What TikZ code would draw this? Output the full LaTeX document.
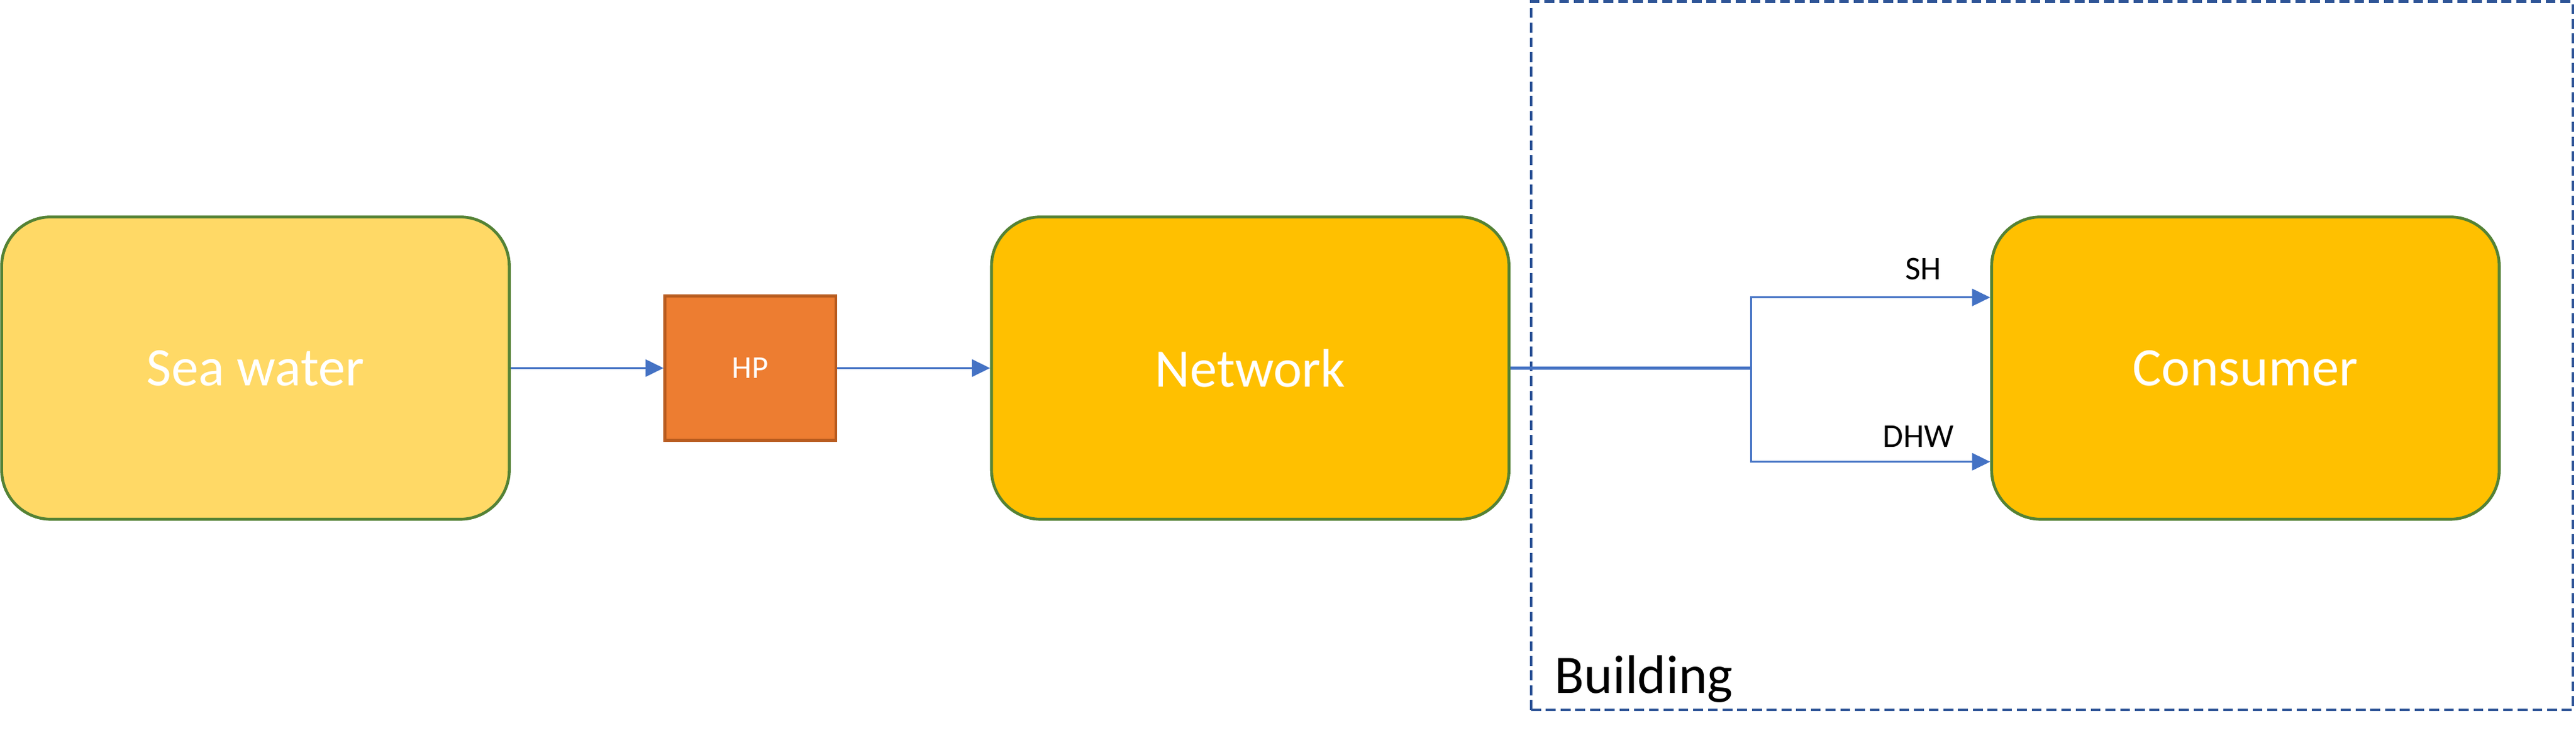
\documentclass[tikz,border=0pt]{standalone}
\usepackage{fontspec}
\setmainfont{Carlito}
\usetikzlibrary{arrows.meta, positioning, calc}
\definecolor{seafill}{HTML}{FFD966}
\definecolor{goldfill}{HTML}{FFC000}
\definecolor{hpfill}{HTML}{ED7D31}
\definecolor{hpdraw}{HTML}{B85B1E}
\definecolor{boxdraw}{HTML}{548235}
\definecolor{flowblue}{HTML}{4472C4}
\definecolor{dashblue}{HTML}{2F5597}
\tikzstyle{unit} = [rectangle, rounded corners=0.6cm, minimum width=6.18cm, minimum height=3.68cm, text centered, draw=boxdraw, line width=1pt, text=white, font=\fontsize{18.8}{21}\selectfont]
\tikzstyle{pump} = [rectangle, minimum width=2.08cm, minimum height=1.76cm, text centered, draw=hpdraw, fill=hpfill, line width=1pt, text=white, font=\fontsize{11}{13}\selectfont]
\tikzstyle{flow} = [draw=flowblue, line width=0.6pt, -{Triangle[length=0.22cm, width=0.21cm]}]
\tikzstyle{label} = [font=\fontsize{11.5}{13}\selectfont, inner sep=0pt]

\begin{document}
\begin{tikzpicture}
\useasboundingbox (0,0) rectangle (31.36,8.94);

% Boundary
\node (building) [draw=dashblue, dashed, dash pattern=on 3.4pt off 1.7pt, line width=1pt, minimum width=12.68cm, minimum height=8.62cm, inner sep=0pt] at (24.98,4.61) {};
\node [anchor=base west, inner sep=0pt, font=\fontsize{18.8}{21}\selectfont] at ($(building.south west)+(0.3,0.22)$) {Building};

% Units
\node (sea) [unit, fill=seafill] at (3.11,4.46) {Sea water};
\node (hp) [pump, right=1.86cm of sea] {HP};
\node (network) [unit, fill=goldfill, minimum width=6.3cm, right=1.86cm of hp] {Network};
\node (consumer) [unit, fill=goldfill, right=5.84cm of network] {Consumer};

% Split point
\coordinate (split) at (21.32,4.46);
\coordinate (shin) at ($(consumer.west)+(0,0.86)$);
\coordinate (dhwin) at ($(consumer.west)+(0,-1.14)$);

% Connections
\draw [flow] (sea) -- (hp);
\draw [flow] (hp) -- (network);
\draw [draw=flowblue, line width=1.1pt] (network.east) -- (split);
\draw [flow] (split) |- node[label, above=0.2cm, pos=0.86] {SH} (shin);
\draw [flow] (split) |- node[label, above=0.17cm, pos=0.85] {DHW} (dhwin);

\end{tikzpicture}
\end{document}
